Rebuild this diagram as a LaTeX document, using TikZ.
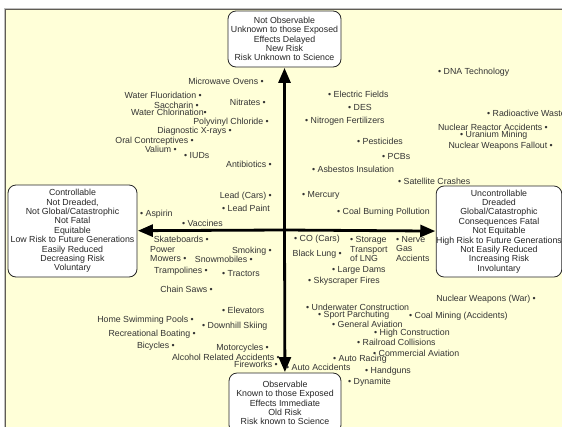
\documentclass[tikz,border=0pt]{standalone}
\usepackage{fontspec}
\setmainfont{Liberation Sans}
\usetikzlibrary{arrows.meta}
\definecolor{panel}{RGB}{255,255,216}
\definecolor{ink}{RGB}{52,52,52}
\definecolor{rim}{RGB}{96,92,84}
\tikzset{
  lbl/.style={inner sep=0pt, text=ink, font=\fontsize{8.8}{9.4}\selectfont},
  lblL/.style={lbl, anchor=east},
  lblR/.style={lbl, anchor=west},
  lblblock/.style={lbl, anchor=west, align=left},
  pole/.style={draw=black!85, line width=0.8pt, rounded corners=8pt, fill=white,
    inner sep=0pt, align=center, text=black!85,
    font=\fontsize{8.8}{9.4}\selectfont},
  axis/.style={line width=2.8pt, -{Triangle[length=15pt,width=12pt]}, shorten >=0.5pt}
}
\begin{document}
\begin{tikzpicture}[x=1pt,y=-1pt]
\useasboundingbox (0,0) rectangle (562,426);
% background panel with its bevelled top and left rims
\fill[white] (0,0) rectangle (562,426);
\fill[panel] (5,9) rectangle (566,430);
\draw[rim, line width=1.6pt] (5.5,432) -- (5.5,9.5) -- (566,9.5);
\draw[black!25, line width=0.6pt] (4,432) -- (4,8) -- (566,8);

% the four poles of the two factors
\node[pole, minimum width=113pt, minimum height=56pt] (top) at (284.5,39)
  {Not Observable\\Unknown to those Exposed\\Effects Delayed\\New Risk\\Risk Unknown to Science};
\node[pole, minimum width=112pt, minimum height=60pt] (bottom) at (285,403)
  {Observable\\Known to those Exposed\\Effects Immediate\\Old Risk\\Risk known to Science};
\node[pole, minimum width=129pt, minimum height=92pt] (left) at (72.5,231)
  {Controllable\\Not Dreaded,\\Not Global/Catastrophic\\Not Fatal\\Equitable\\Low Risk to Future Generations\\Easily Reduced\\Decreasing Risk\\Voluntary};
\node[pole, minimum width=124pt, minimum height=91pt] (right) at (499,231.5)
  {Uncontrollable\\Dreaded\\Global/Catastrophic\\Consequences Fatal\\Not Equitable\\High Risk to Future Generations\\Not Easily Reduced\\Increasing Risk\\Involuntary};

% axes
\coordinate (origin) at (284.5,230);
\draw[axis] (origin) -- (top);
\draw[axis] (origin) -- (bottom);
\draw[axis] (origin) -- (left);
\draw[axis] (origin) -- (right);

% upper left quadrant
\node[lblL] (mwo) at (264,81) {Microwave Ovens •};
\node[lblL] (wfl) at (202,95) {Water Fluoridation •};
\node[lblL] (sac) at (199,105) {Saccharin •};
\node[lblL] (nit) at (266,102) {Nitrates •};
\node[lblL] (wch) at (207,112) {Water Chlorination•};
\node[lblL] (pvc) at (269,122) {Polyvinyl Chloride •};
\node[lblL] (dxr) at (232,131) {Diagnostic X-rays •};
\node[lblL] (orc) at (194,141) {Oral Contrceptives •};
\node[lblL] (val) at (177,149) {Valium •};
\node[lblR] (iud) at (184,156) {• IUDs};
\node[lblL] (abx) at (272,164) {Antibiotics •};
\node[lblL] (lcr) at (272,196) {Lead (Cars) •};
\node[lblR] (lpt) at (222,208) {• Lead Paint};
\node[lblR] (asp) at (140,214) {• Aspirin};
\node[lblR] (vac) at (182,223) {• Vaccines};

% lower left quadrant
\node[lblL] (skb) at (209,239) {Skateboards •};
\node[lblblock] (pmw) at (150,254) {Power\\Mowers •};
\node[lblL] (smk) at (272,251) {Smoking •};
\node[lblL] (snm) at (253,259) {Snowmobiles •};
\node[lblL] (trp) at (208,271) {Trampolines •};
\node[lblR] (trc) at (222,274) {• Tractors};
\node[lblL] (chs) at (213,289) {Chain Saws •};
\node[lblR] (elv) at (222,310) {• Elevators};
\node[lblL] (hsp) at (194,320) {Home Swimming Pools •};
\node[lblR] (dhs) at (202,326) {• Downhill Skiing};
\node[lblL] (rbt) at (196,334) {Recreational Boating •};
\node[lblL] (bic) at (175,346) {Bicycles •};
\node[lblL] (mcy) at (269,348) {Motorcycles •};
\node[lblL] (ara) at (280,357) {Alcohol Related Accidents •};
\node[lblL] (frw) at (278,364) {Fireworks •};

% upper right quadrant
\node[lblR] (dna) at (438,72) {• DNA Technology};
\node[lblR] (elf) at (328,94) {• Electric Fields};
\node[lblR] (des) at (348,107) {• DES};
\node[lblR] (nfz) at (305,121) {• Nitrogen Fertilizers};
\node[lblR] (rdw) at (487,113) {• Radioactive Waste};
\node[lblL] (nra) at (548,127) {Nuclear Reactor Accidents •};
\node[lblR] (urm) at (460,135) {• Uranium Mining};
\node[lblL] (nwf) at (553,146) {Nuclear Weapons Fallout •};
\node[lblR] (pst) at (357,141) {• Pesticides};
\node[lblR] (pcb) at (382,156) {• PCBs};
\node[lblR] (asb) at (312,169) {• Asbestos Insulation};
\node[lblR] (sat) at (398,181) {• Satellite Crashes};
\node[lblR] (mer) at (302,195) {• Mercury};
\node[lblR] (cbp) at (337,212) {• Coal Burning Pollution};

% lower right quadrant
\node[lblR] (cob) at (294,239) {• CO (Cars)};
\node[lblblock] (lng) at (350,249) {• Storage\\Transport\\of LNG};
\node[lblblock] (ngs) at (396,249) {• Nerve\\Gas\\Accients};
\node[lblL] (blk) at (342,254) {Black Lung •};
\node[lblR] (ldm) at (332,270) {• Large Dams};
\node[lblR] (skf) at (308,281) {• Skyscraper Fires};
\node[lblL] (nww) at (536,299) {Nuclear Weapons (War) •};
\node[lblR] (uwc) at (306,307) {• Underwater Construction};
\node[lblR] (spp) at (318,315) {• Sport Parchuting};
\node[lblR] (cma) at (409,316) {• Coal Mining (Accidents)};
\node[lblR] (gav) at (332,324) {• General Aviation};
\node[lblR] (hcn) at (374,333) {• High Construction};
\node[lblR] (rrc) at (357,342) {• Railroad Collisions};
\node[lblR] (cav) at (373,353) {• Commercial Aviation};
\node[lblR] (arc) at (333,359) {• Auto Racing};
\node[lblR] (aac) at (286,367) {• Auto Accidents};
\node[lblR] (hgn) at (365,371) {• Handguns};
\node[lblR] (dyn) at (348,382) {• Dynamite};
\end{tikzpicture}
\end{document}
